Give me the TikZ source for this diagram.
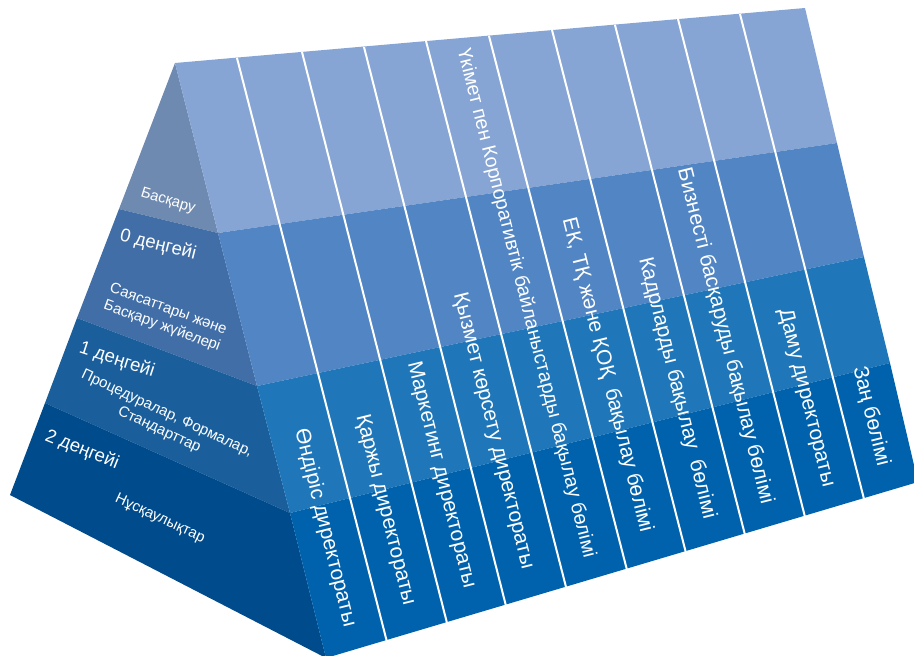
\documentclass[tikz,border=0pt]{standalone}
\usepackage{fontspec}
\setmainfont{Liberation Sans}
\usepackage{tikz}

\definecolor{leftA}{HTML}{6F8AB0}
\definecolor{leftB}{HTML}{416EA6}
\definecolor{leftC}{HTML}{1A5F9B}
\definecolor{leftD}{HTML}{004B8C}
\definecolor{rightA}{HTML}{86A5D4}
\definecolor{rightB}{HTML}{5185C4}
\definecolor{rightC}{HTML}{1F77BA}
\definecolor{rightD}{HTML}{0062AD}

\begin{document}
\begin{tikzpicture}[x=1pt,y=-1pt,
  lvl/.style={text=white,inner sep=0pt,font=\fontsize{18.5}{21}\selectfont},
  desc/.style={text=white,inner sep=0pt,font=\fontsize{15}{18}\selectfont},
  dept/.style={text=white,inner sep=0pt,rotate=-76,font=\fontsize{21}{24}\selectfont},
  strip/.style={white,line width=2pt}]

 \useasboundingbox (0,0) rectangle (914,656);
 \clip (0,0) rectangle (914,656);

 % left face
 \fill[leftA] (175,63) -- (218,233) -- (119,209) -- cycle;
 \fill[leftB] (119,209) -- (218,233) -- (257,386) -- (77,318) -- cycle;
 \fill[leftC] (77,318) -- (257,386) -- (290,513) -- (45,403) -- cycle;
 \fill[leftD] (45,403) -- (290,513) -- (326,658) -- (10,495) -- cycle;

 % right face
 \fill[rightA] (175,63) -- (805,8) -- (837,143) -- (218,233) -- cycle;
 \fill[rightB] (218,233) -- (837,143) -- (864,257) -- (257,386) -- cycle;
 \fill[rightC] (257,386) -- (864,257) -- (890,363) -- (290,513) -- cycle;
 \fill[rightD] (290,513) -- (890,363) -- (918,482) -- (326,658) -- cycle;

 \draw[strip] (237,58) -- (387,642);
 \draw[strip] (302,52) -- (447,623);
 \draw[strip] (364,47) -- (506,606);
 \draw[strip] (426,41) -- (566,587);
 \draw[strip] (489,36) -- (627,570);
 \draw[strip] (552,30) -- (686,553);
 \draw[strip] (615,25) -- (745,535);
 \draw[strip] (678,19) -- (805,517);
 \draw[strip] (740,14) -- (864,499);

 % levels
 \node[desc,rotate=-17] (top) at (168,201) {Басқару};
 \node[lvl,rotate=-14] (lvl0) at (158,245) {0 деңгейі};
 \node[desc,rotate=-20,align=left] (lvl0txt) at (165,318) {Саясаттары және\\Басқару жүйелері};
 \node[lvl,rotate=-18] (lvl1) at (117,360) {1 деңгейі};
 \node[desc,rotate=-25,align=center] (lvl1txt) at (163,422) {Процедуралар, Формалар,\\Стандарттар};
 \node[lvl,rotate=-22] (lvl2) at (82,450) {2 деңгейі};
 \node[desc,rotate=-25] (lvl2txt) at (160,519) {Нұсқаулықтар};

 % departments
 \node[dept] (prod) at (325,528) {Өндіріс директораты};
 \node[dept] (fin) at (385,510) {Қаржы директораты};
 \node[dept] (mark) at (441,475) {Маркетинг директораты};
 \node[dept] (serv) at (493,431) {Қызмет көрсету директораты};
 \node[dept,font=\fontsize{19.7}{24}\selectfont] (gov) at (526,303) {Үкімет пен Корпоративтік байланыстарды бақылау бөлімі};
 \node[dept] (ek) at (607,375) {ЕК, ТҚ және ҚОҚ\ \ бақылау бөлімі};
 \node[dept] (hr) at (677,388) {Кадрларды бақылау\ \ бөлімі};
 \node[dept] (biz) at (725,336) {Бизнесті басқаруды бақылау бөлімі};
 \node[dept] (dev) at (806,398) {Даму директораты};
 \node[dept] (law) at (871,416) {Заң бөлімі};

\end{tikzpicture}
\end{document}
